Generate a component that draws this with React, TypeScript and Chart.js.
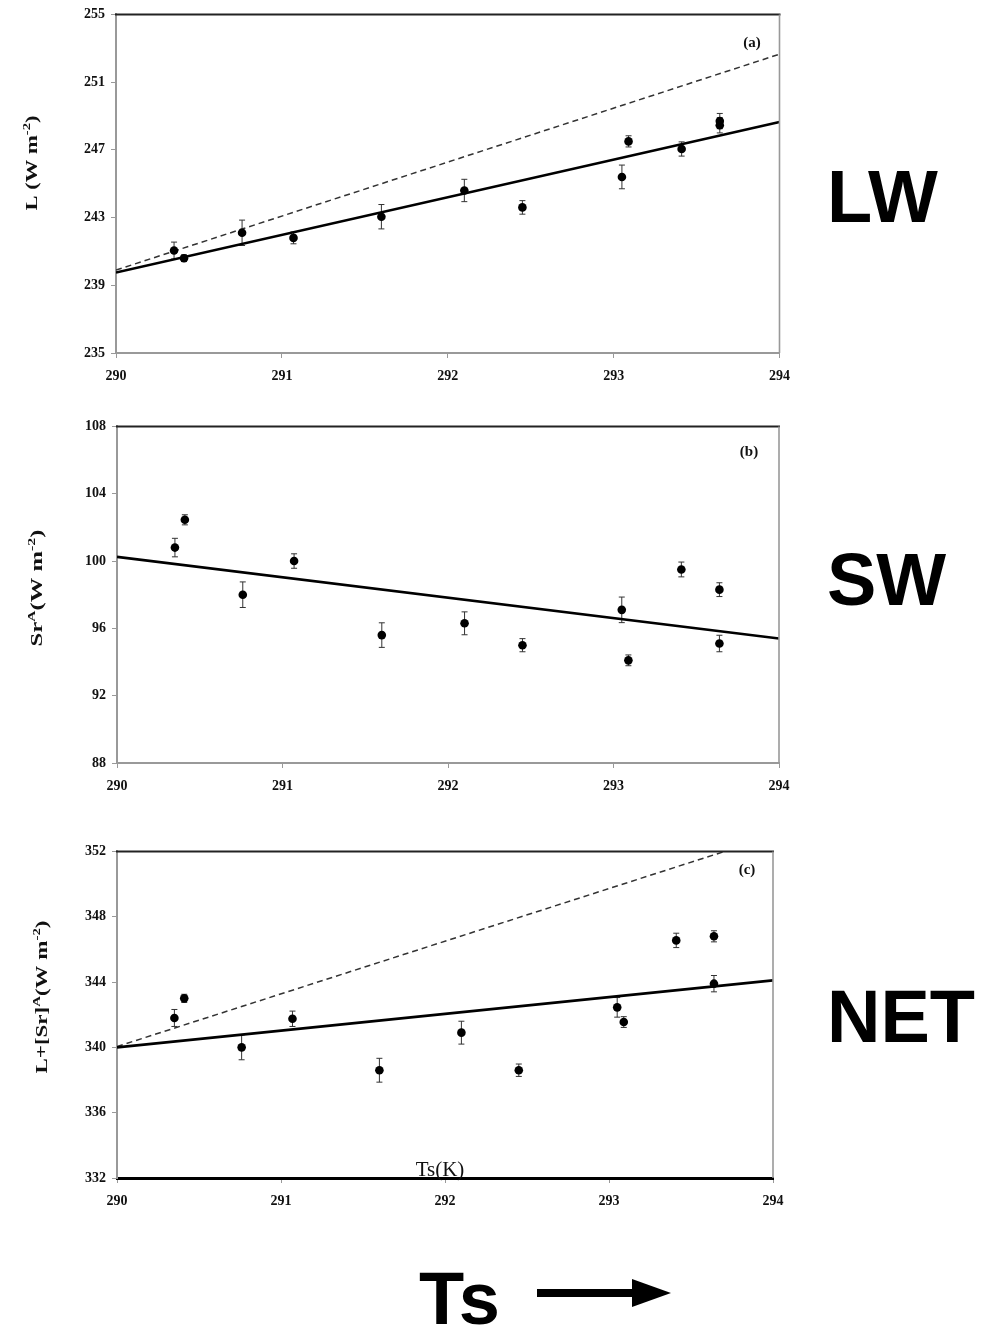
import React, { useEffect, useRef } from 'react';
import { Chart, registerables } from 'chart.js';

Chart.register(...registerables);

// ---------- data ----------
const xTickValues = [290, 291, 292, 293, 294];
const tsValues = [290.35, 290.41, 290.76, 291.07, 291.6, 292.1, 292.45, 293.05, 293.09, 293.41, 293.64, 293.64];

const lwValues = [241.05, 240.6, 242.1, 241.8, 243.05, 244.6, 243.6, 245.4, 247.5, 247.05, 248.45, 248.7];
const lwErrors = [0.5, 0.2, 0.75, 0.35, 0.72, 0.66, 0.4, 0.7, 0.33, 0.42, 0.45, 0.45];
const lwTicks = [235, 239, 243, 247, 251, 255];

const swValues = [100.8, 102.45, 98.0, 100.0, 95.6, 96.3, 95.0, 97.1, 94.1, 99.5, 98.3, 95.1];
const swErrors = [0.55, 0.3, 0.76, 0.43, 0.73, 0.68, 0.39, 0.76, 0.32, 0.44, 0.41, 0.49];
const swTicks = [88, 92, 96, 100, 104, 108];

const netValues = [341.8, 343.0, 340.0, 341.75, 338.6, 340.9, 338.6, 342.45, 341.55, 346.55, 346.8, 343.9];
const netErrors = [0.52, 0.25, 0.76, 0.47, 0.73, 0.7, 0.38, 0.6, 0.33, 0.44, 0.34, 0.5];
const netTicks = [332, 336, 340, 344, 348, 352];

const fitEnds = [290, 294];
const lwFit = [239.75, 248.65];
const lwRef = [239.9, 252.65];
const swFit = [100.25, 95.4];
const netFit = [340.0, 344.1];
const netRef = [340.05, 352.95];

type Seg = { t: string; sup?: boolean };

interface PanelSpec {
  top: number;
  height: number;
  areaLeft: number;
  areaRight: number;
  areaTop: number;
  areaBottom: number;
  values: number[];
  errors: number[];
  ticks: number[];
  fit: number[];
  ref?: number[];
  letter: string;
  letterX: number;
  letterY: number;
  title: Seg[];
  titleX: number;
  titleY: number;
  titleLen: number;
  bottomBold?: boolean;
  xTitle?: string;
}

const SERIF = '"Liberation Serif", "Times New Roman", serif';
const CW = 800;

const panels: PanelSpec[] = [
  {
    top: 0, height: 395, areaLeft: 116, areaRight: 784, areaTop: 13, areaBottom: 353,
    values: lwValues, errors: lwErrors, ticks: lwTicks, fit: lwFit, ref: lwRef,
    letter: '(a)', letterX: 752, letterY: 43,
    title: [{ t: 'L (W m' }, { t: '-2', sup: true }, { t: ')' }],
    titleX: 37, titleY: 163, titleLen: 95,
  },
  {
    top: 412, height: 393, areaLeft: 117, areaRight: 779, areaTop: 425, areaBottom: 763,
    values: swValues, errors: swErrors, ticks: swTicks, fit: swFit,
    letter: '(b)', letterX: 749, letterY: 452,
    title: [{ t: 'Sr' }, { t: 'A', sup: true }, { t: '(W m' }, { t: '-2', sup: true }, { t: ')' }],
    titleX: 42, titleY: 588, titleLen: 117,
  },
  {
    top: 837, height: 383, areaLeft: 117, areaRight: 773, areaTop: 850, areaBottom: 1178,
    values: netValues, errors: netErrors, ticks: netTicks, fit: netFit, ref: netRef,
    letter: '(c)', letterX: 747, letterY: 870,
    title: [{ t: 'L+[Sr]' }, { t: 'A', sup: true }, { t: '(W m' }, { t: '-2', sup: true }, { t: ')' }],
    titleX: 47, titleY: 997, titleLen: 153,
    bottomBold: true, xTitle: 'Ts(K)',
  },
];

function annotPlugin(spec: PanelSpec) {
  return {
    id: 'annot',
    beforeDatasetsDraw(chart: any) {
      const { ctx } = chart;
      const x = chart.scales.x;
      const y = chart.scales.y;
      ctx.save();
      ctx.strokeStyle = '#333';
      ctx.lineWidth = 1;
      tsValues.forEach((t, i) => {
        const px = x.getPixelForValue(t);
        const y1 = y.getPixelForValue(spec.values[i] + spec.errors[i]);
        const y2 = y.getPixelForValue(spec.values[i] - spec.errors[i]);
        ctx.beginPath();
        ctx.moveTo(px, y1);
        ctx.lineTo(px, y2);
        ctx.moveTo(px - 3, y1);
        ctx.lineTo(px + 3, y1);
        ctx.moveTo(px - 3, y2);
        ctx.lineTo(px + 3, y2);
        ctx.stroke();
      });
      ctx.restore();
    },
    afterDraw(chart: any) {
      const { ctx, chartArea } = chart;
      ctx.save();
      // top frame (dark) and right frame (grey)
      ctx.strokeStyle = '#222';
      ctx.lineWidth = 2;
      ctx.beginPath();
      ctx.moveTo(chartArea.left - 1, chartArea.top);
      ctx.lineTo(chartArea.right + 1, chartArea.top);
      ctx.stroke();
      ctx.strokeStyle = '#999';
      ctx.lineWidth = 1.6;
      ctx.beginPath();
      ctx.moveTo(chartArea.right, chartArea.top);
      ctx.lineTo(chartArea.right, chartArea.bottom);
      ctx.stroke();

      // panel letter
      ctx.fillStyle = '#111';
      ctx.font = `bold 15px ${SERIF}`;
      ctx.textAlign = 'center';
      ctx.textBaseline = 'middle';
      ctx.fillText(spec.letter, spec.letterX, spec.letterY - spec.top);

      // x title inside plot
      if (spec.xTitle) {
        ctx.font = `21px ${SERIF}`;
        ctx.textAlign = 'center';
        ctx.textBaseline = 'alphabetic';
        ctx.fillText(spec.xTitle, 440, 1176 - spec.top);
      }

      // rotated y title with superscripts
      const baseFont = `bold 17px ${SERIF}`;
      const supFont = `bold 11px ${SERIF}`;
      let total = 0;
      spec.title.forEach((s) => {
        ctx.font = s.sup ? supFont : baseFont;
        total += ctx.measureText(s.t).width;
      });
      const stretch = spec.titleLen / total;
      ctx.translate(spec.titleX, spec.titleY - spec.top);
      ctx.rotate(-Math.PI / 2);
      ctx.scale(stretch, 1);
      ctx.textAlign = 'left';
      ctx.textBaseline = 'alphabetic';
      let cx = -total / 2;
      spec.title.forEach((s) => {
        ctx.font = s.sup ? supFont : baseFont;
        ctx.fillText(s.t, cx, s.sup ? -7 : 0);
        cx += ctx.measureText(s.t).width;
      });
      ctx.restore();
    },
  };
}

function Panel({ spec }: { spec: PanelSpec }) {
  const ref = useRef<HTMLCanvasElement>(null);
  useEffect(() => {
    const canvas = ref.current;
    if (!canvas) return;
    const tickFont = { family: SERIF, size: 14, weight: 'bold' as const };
    const datasets: any[] = [
      {
        type: 'scatter',
        data: tsValues.map((x, i) => ({ x, y: spec.values[i] })),
        pointRadius: 4.3,
        pointBackgroundColor: '#000',
        pointBorderColor: '#000',
        pointBorderWidth: 0,
        order: 0,
      },
      {
        type: 'line',
        data: fitEnds.map((x, i) => ({ x, y: spec.fit[i] })),
        borderColor: '#000',
        borderWidth: 2.6,
        pointRadius: 0,
        showLine: true,
        fill: false,
        clip: 0,
        order: 1,
      },
    ];
    if (spec.ref) {
      datasets.push({
        type: 'line',
        data: fitEnds.map((x, i) => ({ x, y: spec.ref![i] })),
        borderColor: '#333',
        borderWidth: 1.5,
        borderDash: [6, 4],
        pointRadius: 0,
        showLine: true,
        fill: false,
        clip: 0,
        order: 2,
      });
    }
    const chart = new Chart(canvas, {
      type: 'scatter',
      data: { datasets },
      options: {
        animation: false,
        responsive: false,
        events: [],
        layout: {
          padding: { left: 0, top: spec.areaTop - spec.top, right: CW - spec.areaRight, bottom: 0 },
        },
        plugins: { legend: { display: false }, tooltip: { enabled: false } },
        scales: {
          x: {
            type: 'linear',
            min: xTickValues[0],
            max: xTickValues[xTickValues.length - 1],
            afterBuildTicks: (s: any) => {
              s.ticks = xTickValues.map((v) => ({ value: v }));
            },
            afterFit: (s: any) => {
              s.height = spec.top + spec.height - spec.areaBottom;
            },
            ticks: {
              font: tickFont,
              color: '#111',
              padding: 10,
              maxRotation: 0,
              autoSkip: false,
              callback: (v: any) => String(v),
            },
            grid: { drawOnChartArea: false, drawTicks: true, tickLength: 5, color: '#999' },
            border: { color: spec.bottomBold ? '#000' : '#999', width: spec.bottomBold ? 3 : 2 },
          },
          y: {
            type: 'linear',
            min: spec.ticks[0],
            max: spec.ticks[spec.ticks.length - 1],
            afterBuildTicks: (s: any) => {
              s.ticks = spec.ticks.map((v) => ({ value: v }));
            },
            afterFit: (s: any) => {
              s.width = spec.areaLeft;
            },
            ticks: {
              font: tickFont,
              color: '#111',
              padding: 6,
              autoSkip: false,
              callback: (v: any) => String(v),
            },
            grid: { drawOnChartArea: false, drawTicks: true, tickLength: 5, color: '#999' },
            border: { color: '#999', width: 2 },
          },
        },
      } as any,
      plugins: [annotPlugin(spec)],
    });
    return () => chart.destroy();
  }, [spec]);
  return (
    <canvas
      ref={ref}
      width={CW}
      height={spec.height}
      style={{ position: 'absolute', left: 0, top: spec.top, width: CW, height: spec.height }}
    />
  );
}

const bigText: React.CSSProperties = {
  position: 'absolute',
  fontFamily: '"Liberation Sans", Arial, sans-serif',
  fontWeight: 'bold',
  fontSize: 74,
  lineHeight: '74px',
  color: '#000',
  whiteSpace: 'nowrap',
};

export default function App() {
  return (
    <div
      style={{
        position: 'absolute',
        left: 0,
        top: 0,
        width: 992,
        height: 1327,
        background: '#fff',
        overflow: 'hidden',
      }}
    >
      {panels.map((p, i) => (
        <Panel key={i} spec={p} />
      ))}
      <div style={{ ...bigText, left: 827, top: 160 }}>LW</div>
      <div style={{ ...bigText, left: 827, top: 543 }}>SW</div>
      <div style={{ ...bigText, left: 827, top: 980 }}>NET</div>
      <div style={{ ...bigText, left: 419, top: 1262 }}>Ts</div>
      <svg
        width={992}
        height={1327}
        style={{ position: 'absolute', left: 0, top: 0, pointerEvents: 'none' }}
      >
        <rect x={537} y={1289} width={100} height={8} fill="#000" />
        <polygon points="632,1279 671,1293 632,1307" fill="#000" />
      </svg>
    </div>
  );
}
